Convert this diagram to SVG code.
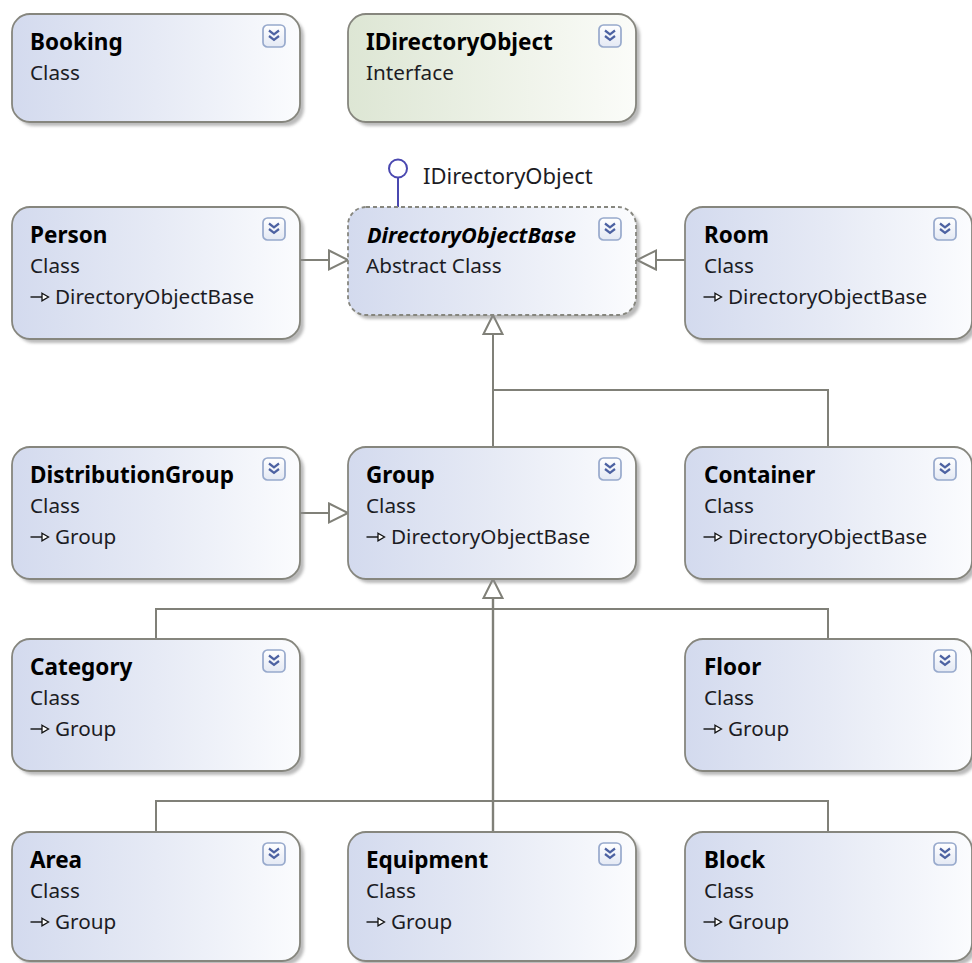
<svg xmlns="http://www.w3.org/2000/svg" xmlns:xlink="http://www.w3.org/1999/xlink" width="972" height="963" viewBox="0 0 972 963">
  <defs>
    <style>
      text { font-family: "Noto Sans", "Open Sans", "Liberation Sans", sans-serif; }
      .title { font-size: 22.5px; font-weight: bold; fill: #000; }
      .italic { font-style: italic; font-size: 21.6px; }
      .sub { font-size: 20.7px; fill: #1c1c24; }
      .label { font-size: 22px; fill: #1c1c24; }
      .box { stroke: #86867e; stroke-width: 1.8; }
      .cls { fill: url(#classFill); }
      .ifc { fill: url(#ifaceFill); }
      .abstract { stroke-dasharray: 4 3; }
      .shadow { fill: #8c8c8c; opacity: 0.6; filter: url(#soft); }
      .conn { fill: none; stroke: #808078; stroke-width: 2; }
      .lolli { fill: #fff; stroke: #4a48b0; stroke-width: 2; }
    </style>
    <linearGradient id="classFill" x1="0" y1="0" x2="1" y2="0">
      <stop offset="0" stop-color="#d3daee"/>
      <stop offset="0.5" stop-color="#e6eaf5"/>
      <stop offset="1" stop-color="#fbfcfe"/>
    </linearGradient>
    <linearGradient id="ifaceFill" x1="0" y1="0" x2="1" y2="0">
      <stop offset="0" stop-color="#dde6d4"/>
      <stop offset="0.5" stop-color="#ecf1e6"/>
      <stop offset="1" stop-color="#fbfcf9"/>
    </linearGradient>
    <linearGradient id="btnFill" x1="0" y1="0" x2="0" y2="1">
      <stop offset="0" stop-color="#ffffff"/>
      <stop offset="1" stop-color="#e4e9f4"/>
    </linearGradient>
    <filter id="soft" x="-5%" y="-5%" width="110%" height="110%">
      <feGaussianBlur stdDeviation="1.8"/>
    </filter>
    <!-- collapse/expand toggle shown in each node header -->
    <symbol id="expand" viewBox="0 0 24 24" width="24" height="24">
      <rect x="1" y="1" width="22" height="22" rx="4.5" fill="url(#btnFill)" stroke="#97a9cc" stroke-width="1.7"/>
      <path d="M7,6.5 L12,10.3 L17,6.5 M7,12 L12,15.8 L17,12" fill="none" stroke="#4d62a2" stroke-width="2.2"/>
    </symbol>
    <!-- small base-type glyph placed before the inherited type name -->
    <symbol id="inherits" viewBox="0 0 20 10" width="20" height="10">
      <path d="M0.5,5 H12" fill="none" stroke="#111" stroke-width="1.4"/>
      <path d="M12,1.2 L18.5,5 L12,8.8 Z" fill="#fff" stroke="#111" stroke-width="1.3"/>
    </symbol>
    <!-- hollow generalization arrowhead -->
    <marker id="gen" viewBox="0 0 22 22" markerWidth="22" markerHeight="22" refX="20" refY="11" orient="auto" markerUnits="userSpaceOnUse" overflow="visible">
      <path d="M1,1.5 L20,11 L1,20.5 Z" fill="#fff" stroke="#808078" stroke-width="2" stroke-linejoin="miter"/>
    </marker>
  </defs>

  <rect width="972" height="963" fill="#fff"/>

  <!-- connectors -->
  <g id="connectors">
    <path class="conn" d="M300,260 H348" marker-end="url(#gen)"/>
    <path class="conn" d="M685,260 H637" marker-end="url(#gen)"/>
    <path class="conn" d="M493,447 V315" marker-end="url(#gen)"/>
    <path class="conn" d="M828,447 V390 H493"/>
    <path class="conn" d="M300,513 H348" marker-end="url(#gen)"/>
    <path class="conn" d="M493,832 V579" marker-end="url(#gen)" style="stroke-width:2.4"/>
    <path class="conn" d="M156,639 V609 H828 V639"/>
    <path class="conn" d="M156,832 V801 H828 V832"/>
    <!-- lollipop for the implemented interface -->
    <path class="conn" d="M398,178 V207" style="stroke:#4a48b0"/>
    <circle class="lolli" cx="398" cy="168.5" r="9"/>
    <text class="label" x="423" y="184">IDirectoryObject</text>
  </g>

  <!-- row 1 -->
  <g id="booking">
    <rect class="shadow" x="16" y="18" width="288" height="108" rx="18"/>
    <rect class="box cls" x="12" y="14" width="288" height="108" rx="18"/>
    <text class="title" x="30" y="50">Booking</text>
    <text class="sub" x="30" y="80">Class</text>
    <use href="#expand" x="262" y="24"/>
  </g>
  <g id="idirectoryobject">
    <rect class="shadow" x="352" y="18" width="288" height="108" rx="18"/>
    <rect class="box ifc" x="348" y="14" width="288" height="108" rx="18"/>
    <text class="title" x="366" y="50">IDirectoryObject</text>
    <text class="sub" x="366" y="80">Interface</text>
    <use href="#expand" x="598" y="24"/>
  </g>

  <!-- row 2 -->
  <g id="person">
    <rect class="shadow" x="16" y="211" width="288" height="132" rx="18"/>
    <rect class="box cls" x="12" y="207" width="288" height="132" rx="18"/>
    <text class="title" x="30" y="243">Person</text>
    <text class="sub" x="30" y="273">Class</text>
    <use href="#inherits" x="30" y="292"/>
    <text class="sub" x="55" y="304">DirectoryObjectBase</text>
    <use href="#expand" x="262" y="217"/>
  </g>
  <g id="directoryobjectbase">
    <rect class="shadow" x="352" y="211" width="288" height="108" rx="18"/>
    <rect class="box cls abstract" x="348" y="207" width="288" height="108" rx="18"/>
    <text class="title italic" x="367" y="243">DirectoryObjectBase</text>
    <text class="sub" x="366" y="273">Abstract Class</text>
    <use href="#expand" x="598" y="217"/>
  </g>
  <g id="room">
    <rect class="shadow" x="689" y="211" width="287" height="132" rx="18"/>
    <rect class="box cls" x="685" y="207" width="287" height="132" rx="18"/>
    <text class="title" x="704" y="243">Room</text>
    <text class="sub" x="704" y="273">Class</text>
    <use href="#inherits" x="703" y="292"/>
    <text class="sub" x="728" y="304">DirectoryObjectBase</text>
    <use href="#expand" x="933" y="217"/>
  </g>

  <!-- row 3 -->
  <g id="distributiongroup">
    <rect class="shadow" x="16" y="451" width="288" height="132" rx="18"/>
    <rect class="box cls" x="12" y="447" width="288" height="132" rx="18"/>
    <text class="title" x="30" y="483">DistributionGroup</text>
    <text class="sub" x="30" y="513">Class</text>
    <use href="#inherits" x="30" y="532"/>
    <text class="sub" x="55" y="544">Group</text>
    <use href="#expand" x="262" y="457"/>
  </g>
  <g id="group">
    <rect class="shadow" x="352" y="451" width="288" height="132" rx="18"/>
    <rect class="box cls" x="348" y="447" width="288" height="132" rx="18"/>
    <text class="title" x="366" y="483">Group</text>
    <text class="sub" x="366" y="513">Class</text>
    <use href="#inherits" x="366" y="532"/>
    <text class="sub" x="391" y="544">DirectoryObjectBase</text>
    <use href="#expand" x="598" y="457"/>
  </g>
  <g id="container">
    <rect class="shadow" x="689" y="451" width="287" height="132" rx="18"/>
    <rect class="box cls" x="685" y="447" width="287" height="132" rx="18"/>
    <text class="title" x="704" y="483">Container</text>
    <text class="sub" x="704" y="513">Class</text>
    <use href="#inherits" x="703" y="532"/>
    <text class="sub" x="728" y="544">DirectoryObjectBase</text>
    <use href="#expand" x="933" y="457"/>
  </g>

  <!-- row 4 -->
  <g id="category">
    <rect class="shadow" x="16" y="643" width="288" height="132" rx="18"/>
    <rect class="box cls" x="12" y="639" width="288" height="132" rx="18"/>
    <text class="title" x="30" y="675">Category</text>
    <text class="sub" x="30" y="705">Class</text>
    <use href="#inherits" x="30" y="724"/>
    <text class="sub" x="55" y="736">Group</text>
    <use href="#expand" x="262" y="649"/>
  </g>
  <g id="floor">
    <rect class="shadow" x="689" y="643" width="287" height="132" rx="18"/>
    <rect class="box cls" x="685" y="639" width="287" height="132" rx="18"/>
    <text class="title" x="704" y="675">Floor</text>
    <text class="sub" x="704" y="705">Class</text>
    <use href="#inherits" x="703" y="724"/>
    <text class="sub" x="728" y="736">Group</text>
    <use href="#expand" x="933" y="649"/>
  </g>

  <!-- row 5 -->
  <g id="area">
    <rect class="shadow" x="16" y="836" width="288" height="129" rx="18"/>
    <rect class="box cls" x="12" y="832" width="288" height="129" rx="18"/>
    <text class="title" x="30" y="868">Area</text>
    <text class="sub" x="30" y="898">Class</text>
    <use href="#inherits" x="30" y="917"/>
    <text class="sub" x="55" y="929">Group</text>
    <use href="#expand" x="262" y="842"/>
  </g>
  <g id="equipment">
    <rect class="shadow" x="352" y="836" width="288" height="129" rx="18"/>
    <rect class="box cls" x="348" y="832" width="288" height="129" rx="18"/>
    <text class="title" x="366" y="868">Equipment</text>
    <text class="sub" x="366" y="898">Class</text>
    <use href="#inherits" x="366" y="917"/>
    <text class="sub" x="391" y="929">Group</text>
    <use href="#expand" x="598" y="842"/>
  </g>
  <g id="block">
    <rect class="shadow" x="689" y="836" width="287" height="129" rx="18"/>
    <rect class="box cls" x="685" y="832" width="287" height="129" rx="18"/>
    <text class="title" x="704" y="868">Block</text>
    <text class="sub" x="704" y="898">Class</text>
    <use href="#inherits" x="703" y="917"/>
    <text class="sub" x="728" y="929">Group</text>
    <use href="#expand" x="933" y="842"/>
  </g>
</svg>
